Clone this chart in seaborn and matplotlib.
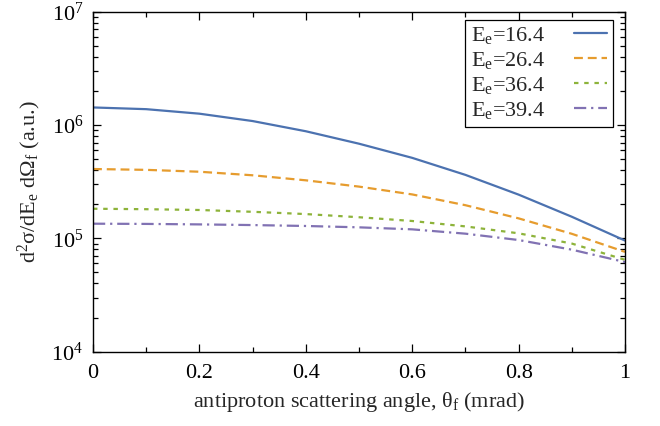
import numpy as np
import pandas as pd
import matplotlib
matplotlib.use("Agg")
import matplotlib.pyplot as plt
import seaborn as sns
from matplotlib.ticker import LogLocator, MultipleLocator, LogFormatterMathtext

# Scattering angle (mrad)
theta = [0.0, 0.1, 0.2, 0.3, 0.4, 0.5, 0.6, 0.7, 0.8, 0.9, 1.0]

# Double-differential cross section (a.u.) for each electron energy
xs_164 = [1.429e6, 1.380e6, 1.259e6, 1.084e6, 8.81e5, 6.84e5, 5.13e5, 3.63e5, 2.43e5, 1.55e5, 9.55e4]
xs_264 = [4.09e5, 4.02e5, 3.87e5, 3.60e5, 3.25e5, 2.86e5, 2.44e5, 1.96e5, 1.50e5, 1.096e5, 7.59e4]
xs_364 = [1.824e5, 1.807e5, 1.778e5, 1.714e5, 1.637e5, 1.535e5, 1.422e5, 1.274e5, 1.107e5, 8.99e4, 6.46e4]
xs_394 = [1.346e5, 1.340e5, 1.327e5, 1.309e5, 1.285e5, 1.250e5, 1.200e5, 1.099e5, 9.66e4, 7.94e4, 6.17e4]

energies = ["16.4", "26.4", "36.4", "39.4"]
series = [xs_164, xs_264, xs_364, xs_394]
colors = ["#4C72B0", "#E69C2E", "#8DB33A", "#8172B3"]
dashes = ["-", (0, (4, 2.2)), (0, (2, 2.6)), (0, (5.5, 2.2, 1, 2.2))]

sns.set_style("ticks")
plt.rcParams["font.family"] = ["Liberation Serif", "DejaVu Serif"]
plt.rcParams["mathtext.fontset"] = "custom"
plt.rcParams["mathtext.rm"] = "Liberation Serif"
plt.rcParams["mathtext.it"] = "Liberation Serif:italic"
plt.rcParams["mathtext.bf"] = "Liberation Serif:bold"

frames = []
for e, ys in zip(energies, series):
    frames.append(pd.DataFrame({"theta": theta, "xs": ys,
                                "label": f"E$_\\mathrm{{e}}$={e}"}))
df = pd.concat(frames, ignore_index=True)

fig = plt.figure(figsize=(6.6, 4.26), dpi=100)
ax = fig.add_axes([0.1409, 0.1746, 0.8061, 0.7979])

labels = df["label"].unique()
for lab, col, ls in zip(labels, colors, dashes):
    sub = df[df["label"] == lab]
    sns.lineplot(data=sub, x="theta", y="xs", ax=ax, color=col,
                 linewidth=1.6, label=lab, linestyle=ls)

ax.set_yscale("log")
ax.set_xlim(0, 1)
ax.set_ylim(1e4, 1e7)

ax.xaxis.set_minor_locator(MultipleLocator(0.1))
ax.set_xticks([0, 0.2, 0.4, 0.6, 0.8, 1.0])
ax.set_xticklabels(["0", "0.2", "0.4", "0.6", "0.8", "1"])
ax.yaxis.set_major_locator(LogLocator(base=10, numticks=10))
ax.yaxis.set_minor_locator(LogLocator(base=10, subs=np.arange(2, 10), numticks=10))
ax.yaxis.set_major_formatter(LogFormatterMathtext())

ax.tick_params(which="both", direction="in", top=True, right=True,
               labelsize=16, colors="black")
ax.tick_params(axis="x", pad=9)
ax.tick_params(axis="y", pad=7)
ax.tick_params(which="major", length=6, width=0.9)
ax.tick_params(which="minor", length=3.5, width=0.9)
for sp in ax.spines.values():
    sp.set_linewidth(1.0)
    sp.set_color("black")

ax.set_xlabel("antiproton scattering angle, θ$_\\mathrm{f}$ (mrad)", fontsize=16, labelpad=5)
ax.set_ylabel("d$^2$σ/dE$_\\mathrm{e}$ dΩ$_\\mathrm{f}$ (a.u.)", fontsize=16, labelpad=6)

leg = ax.legend(loc="upper right", bbox_to_anchor=(0.985, 0.99), markerfirst=False,
                fontsize=16, frameon=True, fancybox=False, framealpha=1,
                edgecolor="black", handlelength=1.5, handletextpad=1.3,
                labelspacing=0.18, borderpad=0.25, borderaxespad=0.2)
leg.get_frame().set_linewidth(0.9)

fig.savefig("out.png", dpi=100)
